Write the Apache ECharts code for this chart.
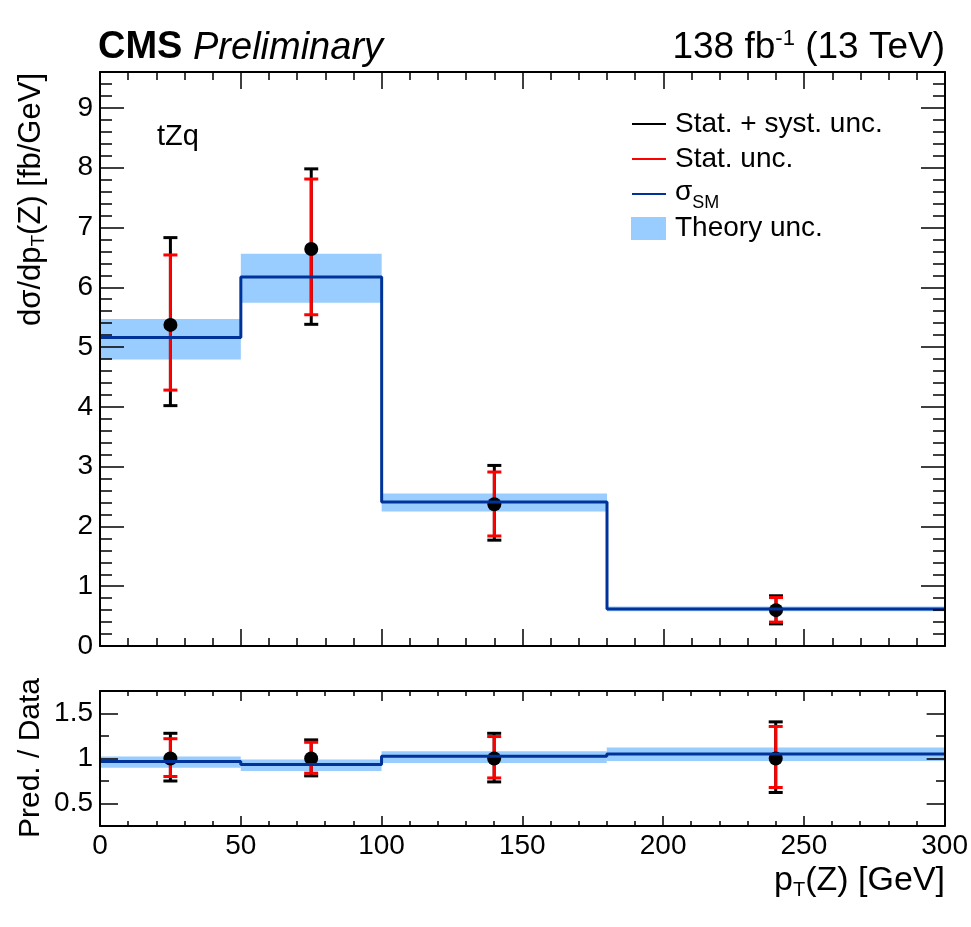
<!DOCTYPE html>
<html><head><meta charset="utf-8">
<script src="https://cdn.jsdelivr.net/npm/echarts@6.0.0/dist/echarts.min.js"></script>
<style>html,body{margin:0;padding:0;background:#fff}#c{width:971px;height:927px}</style>
</head><body><div id="c"></div>
<script>
// ---- data ----
const binEdges = [0, 50, 100, 180, 300];
const binCenters = [25, 75, 140, 240];
const dataXsec = [5.37, 6.64, 2.37, 0.60];
const totUp = [6.83, 7.98, 3.02, 0.84];
const totDown = [4.02, 5.38, 1.77, 0.37];
const statUp = [6.54, 7.81, 2.91, 0.81];
const statDown = [4.28, 5.54, 1.84, 0.40];
const smXsec = [5.16, 6.17, 2.41, 0.62];
const theoryUp = [5.47, 6.56, 2.55, 0.66];
const theoryDown = [4.79, 5.74, 2.25, 0.58];
const ratioData = [1, 1, 1, 1];
const ratioSM = [0.967, 0.933, 1.026, 1.051];
const ratioTheoryUp = [1.022, 0.99, 1.081, 1.122];
const ratioTheoryDown = [0.896, 0.862, 0.951, 0.973];
const ratioTotUp = [1.28, 1.207, 1.28, 1.407];
const ratioTotDown = [0.75, 0.807, 0.74, 0.622];
const ratioStatUp = [1.22, 1.18, 1.244, 1.356];
const ratioStatDown = [0.80, 0.837, 0.784, 0.678];
const xTicks = [0, 50, 100, 150, 200, 250, 300];
const yTicksTop = [0, 1, 2, 3, 4, 5, 6, 7, 8, 9];
const yTicksRatio = [0.5, 1, 1.5];

const FONT = '"Liberation Sans", Arial, Helvetica, sans-serif';
const BAND = '#99ccff';
const SMCOL = '#003399';

function bandData(lo, hi) { return lo.map((l, i) => [binEdges[i], binEdges[i + 1], l, hi[i]]); }
function stepData(v) { return binEdges.map((e, i) => [e, v[Math.min(i, v.length - 1)]]); }
function errData(lo, hi) { return binCenters.map((c, i) => [c, lo[i], hi[i]]); }
function ptData(v) { return binCenters.map((c, i) => [c, v[i]]); }

function renderBand(params, api) {
  const p1 = api.coord([api.value(0), api.value(3)]);
  const p2 = api.coord([api.value(1), api.value(2)]);
  return { type: 'rect', shape: { x: p1[0], y: p1[1], width: p2[0] - p1[0], height: p2[1] - p1[1] }, style: { fill: BAND } };
}
function makeErr(color, cap) {
  return function (params, api) {
    const a = api.coord([api.value(0), api.value(1)]);
    const b = api.coord([api.value(0), api.value(2)]);
    const st = { stroke: color, lineWidth: 3 };
    return { type: 'group', children: [
      { type: 'line', shape: { x1: a[0], y1: a[1], x2: b[0], y2: b[1] }, style: st },
      { type: 'line', shape: { x1: a[0] - cap, y1: a[1], x2: a[0] + cap, y2: a[1] }, style: st },
      { type: 'line', shape: { x1: b[0] - cap, y1: b[1], x2: b[0] + cap, y2: b[1] }, style: st }
    ] };
  };
}

const tickLine = { color: '#000', width: 1.5 };
function xAx(grid, pos, major, minor, labels) {
  return { type: 'value', gridIndex: grid, position: pos, min: 0, max: 300, interval: 50, z: 10,
    axisLine: { show: true, onZero: false, lineStyle: { color: '#000', width: 2 } },
    splitLine: { show: false },
    axisTick: { show: true, inside: true, length: major, lineStyle: tickLine },
    minorTick: { show: true, splitNumber: 5, length: minor, lineStyle: tickLine },
    axisLabel: { show: labels, color: '#000', fontSize: 28, fontFamily: FONT, margin: 6, customValues: xTicks } };
}
function xHidden(grid) {
  return { type: 'value', gridIndex: grid, min: 0, max: 300, show: false };
}
function yMajor(grid, pos, min, max, vals, len, labels) {
  return { type: 'value', gridIndex: grid, position: pos, min: min, max: max, z: 10,
    axisLine: { show: true, onZero: false, lineStyle: { color: '#000', width: 2 } },
    splitLine: { show: false },
    axisTick: { show: true, inside: true, length: len, lineStyle: tickLine, customValues: vals },
    axisLabel: { show: labels, color: '#000', fontSize: 28, fontFamily: FONT, margin: 7, customValues: vals } };
}
function yMinor(grid, pos, min, max, interval, len) {
  return { type: 'value', gridIndex: grid, position: pos, min: min, max: max, interval: interval, z: 10,
    axisLine: { show: false }, splitLine: { show: false },
    axisTick: { show: true, inside: true, length: len, lineStyle: tickLine },
    axisLabel: { show: false } };
}

const chart = echarts.init(document.getElementById('c'), null, { renderer: 'canvas' });
const option = {
  animation: false,
  backgroundColor: '#fff',
  grid: [
    { left: 100, top: 72, width: 845, height: 574, show: false },
    { left: 100, top: 691, width: 845, height: 135, show: false },
    { left: 100, top: 72, width: 845, height: 574, show: false },
    { left: 100, top: 691, width: 845, height: 135, show: false }
  ],
  xAxis: [
    xAx(0, 'bottom', 17, 8, false),
    xAx(0, 'top', 17, 8, false),
    xAx(1, 'bottom', 10, 5, true),
    xAx(1, 'top', 10, 5, false),
    xHidden(2),
    xHidden(3)
  ],
  yAxis: [
    yMajor(0, 'left', 0, 9.6, yTicksTop, 24, true),
    yMajor(0, 'right', 0, 9.6, yTicksTop, 24, false),
    yMajor(1, 'left', 0.25, 1.75, yTicksRatio, 18, true),
    yMajor(1, 'right', 0.25, 1.75, yTicksRatio, 18, false),
    yMinor(2, 'left', 0, 9.6, 0.2, 12),
    yMinor(2, 'right', 0, 9.6, 0.2, 12),
    yMinor(3, 'left', 0.25, 1.75, 0.25, 9),
    yMinor(3, 'right', 0.25, 1.75, 0.25, 9)
  ],
  series: [
    { type: 'custom', xAxisIndex: 0, yAxisIndex: 0, renderItem: renderBand, encode: { x: [0, 1], y: [2, 3] }, data: bandData(theoryDown, theoryUp) },
    { type: 'line', xAxisIndex: 0, yAxisIndex: 0, step: 'end', symbol: 'none', lineStyle: { color: SMCOL, width: 3 }, data: stepData(smXsec) },
    { type: 'custom', xAxisIndex: 0, yAxisIndex: 0, renderItem: makeErr('#000', 7), encode: { x: 0, y: [1, 2] }, data: errData(totDown, totUp) },
    { type: 'custom', xAxisIndex: 0, yAxisIndex: 0, renderItem: makeErr('#ff0000', 7), encode: { x: 0, y: [1, 2] }, data: errData(statDown, statUp) },
    { type: 'scatter', xAxisIndex: 0, yAxisIndex: 0, symbol: 'circle', symbolSize: 14, itemStyle: { color: '#000', opacity: 1 }, data: ptData(dataXsec) },

    { type: 'custom', xAxisIndex: 2, yAxisIndex: 2, renderItem: renderBand, encode: { x: [0, 1], y: [2, 3] }, data: bandData(ratioTheoryDown, ratioTheoryUp) },
    { type: 'line', xAxisIndex: 2, yAxisIndex: 2, step: 'end', symbol: 'none', lineStyle: { color: SMCOL, width: 3 }, data: stepData(ratioSM) },
    { type: 'custom', xAxisIndex: 2, yAxisIndex: 2, renderItem: makeErr('#000', 7), encode: { x: 0, y: [1, 2] }, data: errData(ratioTotDown, ratioTotUp) },
    { type: 'custom', xAxisIndex: 2, yAxisIndex: 2, renderItem: makeErr('#ff0000', 7), encode: { x: 0, y: [1, 2] }, data: errData(ratioStatDown, ratioStatUp) },
    { type: 'scatter', xAxisIndex: 2, yAxisIndex: 2, symbol: 'circle', symbolSize: 14, itemStyle: { color: '#000', opacity: 1 }, data: ptData(ratioData) }
  ],
  graphic: [
    { type: 'text', x: 98, y: 48, style: { text: 'CMS', font: 'bold 38px ' + FONT, fill: '#000', align: 'left', verticalAlign: 'middle', textAlign: 'left', textVerticalAlign: 'middle' } },
    { type: 'text', x: 193, y: 48, style: { text: 'Preliminary', font: 'italic 38px ' + FONT, fill: '#000', align: 'left', verticalAlign: 'middle', textAlign: 'left', textVerticalAlign: 'middle' } },
    { type: 'text', x: 945, y: 48, style: { text: '{a|138 fb}{s|-1}{a| (13 TeV)}', fill: '#000', align: 'right', verticalAlign: 'middle', textAlign: 'right', textVerticalAlign: 'middle',
        rich: { a: { fontSize: 37, fontFamily: FONT, fill: '#000' }, s: { fontSize: 22, fontFamily: FONT, fill: '#000', padding: [0, 0, 18, 0] } } } },
    { type: 'text', x: 157, y: 137, style: { text: 'tZq', font: '29px ' + FONT, fill: '#000', align: 'left', verticalAlign: 'middle', textAlign: 'left', textVerticalAlign: 'middle' } },
    // legend
    { type: 'line', shape: { x1: 632, y1: 124, x2: 666, y2: 124 }, style: { stroke: '#000', lineWidth: 2 } },
    { type: 'text', x: 675, y: 124, style: { text: 'Stat. + syst. unc.', font: '28px ' + FONT, fill: '#000', align: 'left', verticalAlign: 'middle', textAlign: 'left', textVerticalAlign: 'middle' } },
    { type: 'line', shape: { x1: 632, y1: 159, x2: 666, y2: 159 }, style: { stroke: '#ff0000', lineWidth: 2 } },
    { type: 'text', x: 675, y: 159, style: { text: 'Stat. unc.', font: '28px ' + FONT, fill: '#000', align: 'left', verticalAlign: 'middle', textAlign: 'left', textVerticalAlign: 'middle' } },
    { type: 'line', shape: { x1: 632, y1: 194, x2: 666, y2: 194 }, style: { stroke: SMCOL, lineWidth: 2 } },
    { type: 'text', x: 675, y: 192, style: { text: '{a|σ}{s|SM}', fill: '#000', align: 'left', verticalAlign: 'middle', textAlign: 'left', textVerticalAlign: 'middle',
        rich: { a: { fontSize: 28, fontFamily: FONT, fill: '#000' }, s: { fontSize: 18, fontFamily: FONT, fill: '#000', padding: [22, 0, 0, 0] } } } },
    { type: 'rect', shape: { x: 631, y: 217, width: 35, height: 23 }, style: { fill: BAND } },
    { type: 'text', x: 675, y: 228, style: { text: 'Theory unc.', font: '28px ' + FONT, fill: '#000', align: 'left', verticalAlign: 'middle', textAlign: 'left', textVerticalAlign: 'middle' } },
    // axis titles
    { type: 'text', x: 31, y: 73, rotation: Math.PI / 2, style: { text: '{a|dσ/dp}{s|T}{a|(Z) [fb/GeV]}', fill: '#000', align: 'right', verticalAlign: 'middle', textAlign: 'right', textVerticalAlign: 'middle',
        rich: { a: { fontSize: 31, fontFamily: FONT, fill: '#000' }, s: { fontSize: 19, fontFamily: FONT, fill: '#000', padding: [16, 0, 0, 0] } } } },
    { type: 'text', x: 31, y: 758, rotation: Math.PI / 2, style: { text: 'Pred. / Data', font: '30px ' + FONT, fill: '#000', align: 'center', verticalAlign: 'middle', textAlign: 'center', textVerticalAlign: 'middle' } },
    { type: 'text', x: 945, y: 881, style: { text: '{a|p}{s|T}{a|(Z) [GeV]}', fill: '#000', align: 'right', verticalAlign: 'middle', textAlign: 'right', textVerticalAlign: 'middle',
        rich: { a: { fontSize: 34, fontFamily: FONT, fill: '#000' }, s: { fontSize: 20, fontFamily: FONT, fill: '#000', padding: [18, 0, 0, 0] } } } }
  ]
};
chart.setOption(option);
</script></body></html>
